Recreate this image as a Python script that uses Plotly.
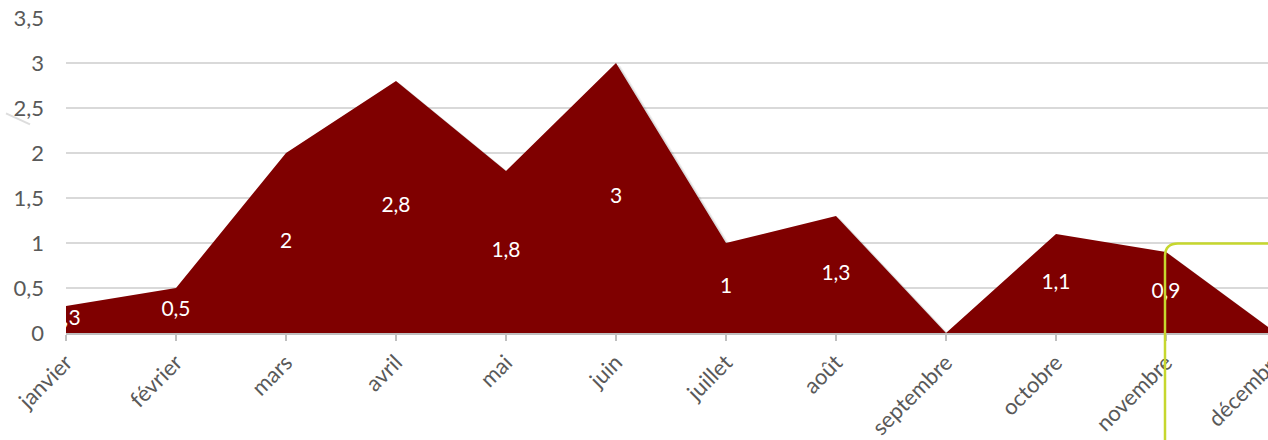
import plotly.graph_objects as go

months = ["janvier", "février", "mars", "avril", "mai", "juin",
          "juillet", "août", "septembre", "octobre", "novembre", "décembre"]
values = [0.3, 0.5, 2, 2.8, 1.8, 3, 1, 1.3, 0, 1.1, 0.9, 0]
label_text = ["0,3", "0,5", "2", "2,8", "1,8", "3", "1", "1,3", "", "1,1", "0,9", ""]
y_ticks = [0, 0.5, 1, 1.5, 2, 2.5, 3, 3.5]

FONT = "Lato"
FS = 22
W, H = 1268, 440
ML, MR, MT, MB = 66, 0, 18, 105
plot_w = W - ML - MR
plot_h = H - MT - MB
cat_px = 110.0
idx = list(range(len(months)))
xmax = plot_w / cat_px

fig = go.Figure()

# soft shadow under the area
for dx, dy, op in [(0.04, -0.03, 0.06), (0.022, -0.016, 0.09)]:
    fig.add_trace(go.Scatter(
        x=[i + dx for i in idx], y=[v + dy for v in values],
        mode="lines", fill="tozeroy", line=dict(width=0),
        fillcolor=f"rgba(0,0,0,{op})", hoverinfo="skip", showlegend=False))

fig.add_trace(go.Scatter(
    x=idx, y=values, mode="lines", fill="tozeroy",
    line=dict(width=0, color="#7f0000"), fillcolor="#7f0000",
    showlegend=False))

fig.add_trace(go.Scatter(
    x=idx, y=[v / 2 for v in values], mode="text", text=label_text,
    textfont=dict(family=FONT, size=FS - 1, color="white"),
    cliponaxis=True, showlegend=False, hoverinfo="skip"))

fig.update_layout(
    width=W, height=H, autosize=False,
    margin=dict(l=ML, r=MR, t=MT, b=MB, pad=0),
    paper_bgcolor="white", plot_bgcolor="white",
    separators=", ",
    font=dict(family=FONT, size=FS, color="#595959"),
    xaxis=dict(range=[0, xmax], tickvals=idx, ticktext=months,
               showgrid=False, zeroline=False,
               showline=True, linecolor="#bfbfbf", linewidth=2,
               ticks="outside", ticklen=6, tickwidth=2, tickcolor="#bfbfbf",
               tickangle=-45, ticklabeloverflow="allow",
               tickfont=dict(family=FONT, size=FS, color="#595959")),
    yaxis=dict(range=[0, 3.5], tickvals=y_ticks, tickformat=".1~f",
               showgrid=True, gridcolor="#d9d9d9", gridwidth=1.5,
               zeroline=False, showline=False, ticks="",
               ticklabelstandoff=21, ticklabeloverflow="allow",
               tickfont=dict(family=FONT, size=FS, color="#595959")),
)

# last category label sits beyond the right edge of the figure (cut off, as in the reference)
last = len(months) - 1
fig.add_annotation(xref="paper", yref="paper",
                   x=(last * cat_px + 15) / plot_w, y=-10 / plot_h,
                   text=months[last], textangle=-45, showarrow=False,
                   xanchor="right", yanchor="top",
                   font=dict(family=FONT, size=FS, color="#595959"))

# green selection outline (decoration), screen pixel -> paper
def px_x(p):
    return (p - ML) / plot_w

def px_y(p):
    return (H - MB - p) / plot_h

x0 = px_x(1165)
ytop = px_y(245)
ybot = px_y(450)
rx = 13 / plot_w
ry = 13 / plot_h
fig.add_shape(type="path", xref="paper", yref="paper",
              path=f"M {x0},{ybot} L {x0},{ytop - ry} Q {x0},{ytop} {x0 + rx},{ytop} L 1.02,{ytop}",
              line=dict(color="#c6d72e", width=2.5), layer="above")

# faint smudge at left
fig.add_shape(type="line", xref="paper", yref="paper",
              x0=px_x(6), y0=px_y(114), x1=px_x(30), y1=px_y(125),
              line=dict(color="rgba(120,120,120,0.25)", width=2))

fig.write_html("out.html",
               config={"displayModeBar": False},
               post_script="document.body.style.margin='0';"
                           "document.documentElement.style.overflow='hidden';"
                           "document.body.style.overflow='hidden';")
